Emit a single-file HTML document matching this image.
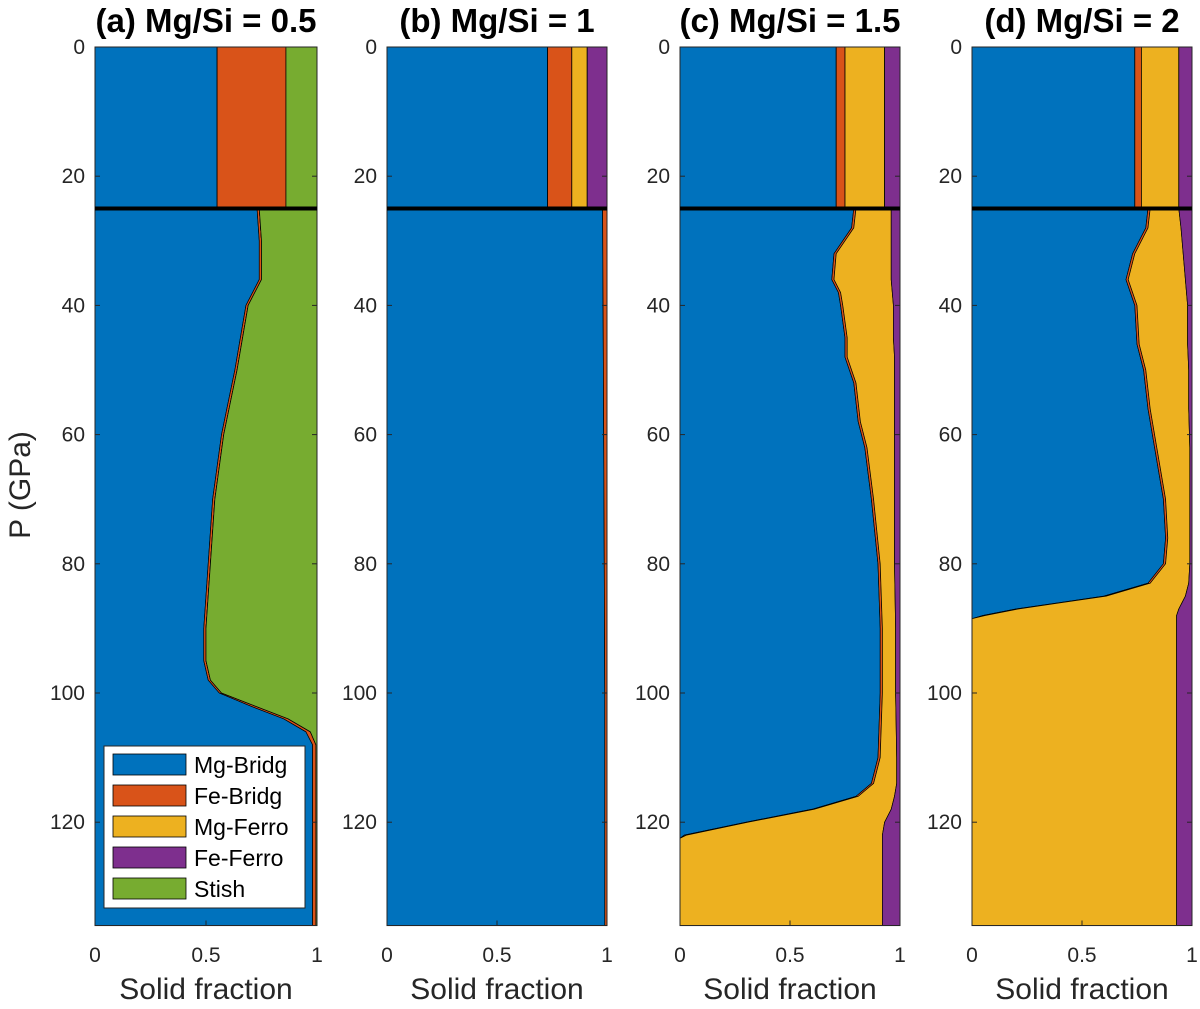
<!DOCTYPE html>
<html><head><meta charset="utf-8">
<style>
body{margin:0;background:#fff;}
svg{display:block;font-family:"Liberation Sans",sans-serif;}
</style></head>
<body>
<svg id="chart" width="1200" height="1009"></svg>
<script>
const titles=["(a) Mg/Si = 0.5","(b) Mg/Si = 1","(c) Mg/Si = 1.5","(d) Mg/Si = 2"];
const phases=["Mg-Bridg","Fe-Bridg","Mg-Ferro","Fe-Ferro","Stish"];
const colors=["#0072BD","#D95319","#EDB120","#7E2F8E","#77AC30"];
const yTicks=[0,20,40,60,80,100,120];
const xTicks=[0,0.5,1];
const xTickLabels=["0","0.5","1"];
const transitionP=25;
const pMax=136;
const upperA=[0.55,0.31,0,0,0.14];
const upperB=[0.73,0.11,0.07,0.09,0];
const upperC=[0.71,0.04,0.18,0.07,0];
const upperD=[0.74,0.03,0.17,0.06,0];
const pA=[25,30,36,40,50,60,70,80,90,95,98,100,102,104,106,108,120,136];
const cumA_MgB=[0.73,0.74,0.74,0.68,0.63,0.57,0.53,0.51,0.49,0.49,0.51,0.56,0.70,0.85,0.95,0.98,0.98,0.98];
const cumA_FeB=[0.74,0.75,0.75,0.69,0.64,0.58,0.54,0.52,0.50,0.50,0.52,0.57,0.72,0.87,0.97,0.995,0.995,0.995];
const cumA_MgF=cumA_FeB, cumA_FeF=cumA_FeB;
const pB=[25,60,100,136];
const cumB_MgB=[0.98,0.985,0.99,0.99];
const cumB_FeB=[1,1,1,1];
const cumB_MgF=cumB_FeB, cumB_FeF=cumB_FeB;
const pC=[25,28,32,36,38,40,45,48,52,58,62,70,80,90,100,110,114,116,118,120,122,122.5,136];
const cumC_MgB=[0.79,0.78,0.70,0.69,0.72,0.73,0.75,0.75,0.79,0.81,0.84,0.87,0.90,0.91,0.91,0.90,0.87,0.80,0.60,0.30,0.02,0,0];
const cumC_FeB=[0.80,0.79,0.71,0.70,0.73,0.74,0.76,0.76,0.80,0.82,0.85,0.88,0.91,0.92,0.92,0.91,0.88,0.81,0.61,0.31,0.03,0,0];
const cumC_MgF=[0.96,0.96,0.96,0.96,0.965,0.97,0.97,0.975,0.975,0.975,0.975,0.975,0.975,0.98,0.98,0.985,0.985,0.975,0.96,0.93,0.92,0.92,0.92];
const cumC_FeF=pC.map(()=>1);
const pD=[25,28,32,36,38,40,46,50,56,62,70,76,80,83,85,86,87,88,88.5,136];
const cumD_MgB=[0.80,0.79,0.73,0.70,0.72,0.74,0.75,0.78,0.80,0.83,0.87,0.88,0.87,0.80,0.60,0.40,0.20,0.05,0,0];
const cumD_FeB=[0.81,0.80,0.74,0.71,0.73,0.75,0.76,0.79,0.81,0.84,0.88,0.89,0.88,0.81,0.61,0.41,0.21,0.06,0,0];
const cumD_MgF=[0.94,0.95,0.96,0.97,0.975,0.98,0.98,0.985,0.985,0.99,0.99,0.99,0.99,0.985,0.97,0.955,0.94,0.93,0.93,0.93];
const cumD_FeF=pD.map(()=>1);

const panels=[
 {x0:95,x1:317,upper:upperA,p:pA,cum:[cumA_MgB,cumA_FeB,cumA_MgF,cumA_FeF]},
 {x0:387,x1:607,upper:upperB,p:pB,cum:[cumB_MgB,cumB_FeB,cumB_MgF,cumB_FeF]},
 {x0:680,x1:900,upper:upperC,p:pC,cum:[cumC_MgB,cumC_FeB,cumC_MgF,cumC_FeF]},
 {x0:972,x1:1192,upper:upperD,p:pD,cum:[cumD_MgB,cumD_FeB,cumD_MgF,cumD_FeF]}
];
const yTop=47, yPer=6.46;
const Y=p=>yTop+p*yPer;
const NS="http://www.w3.org/2000/svg";
const svg=document.getElementById('chart');
function mk(tag,attrs,parent){const e=document.createElementNS(NS,tag);for(const k in attrs)e.setAttribute(k,attrs[k]);(parent||svg).appendChild(e);return e;}
panels.forEach((pn,i)=>{
 const X=f=>pn.x0+f*(pn.x1-pn.x0);
 const g=mk('g',{});
 
 
 let acc=0;
 pn.upper.forEach((f,k)=>{
  if(f<=0)return;
  const r=mk('rect',{x:X(acc),y:Y(0),width:X(acc+f)-X(acc),height:Y(transitionP)-Y(0),fill:colors[k],stroke:'#000','stroke-width':0.8},g);
  
  
  acc+=f;
 });
 const bounds=[pn.p.map(()=>0)].concat(pn.cum).concat([pn.p.map(()=>1)]);
 for(let k=0;k<5;k++){
  const lo=bounds[k],hi=bounds[k+1];
  let pts=[];
  pn.p.forEach((p,j)=>pts.push(X(hi[j])+','+Y(p)));
  for(let j=pn.p.length-1;j>=0;j--)pts.push(X(lo[j])+','+Y(pn.p[j]));
  const poly=mk('polygon',{points:pts.join(' '),fill:colors[k],stroke:'#000','stroke-width':0.7},g);
  
  
 }
 const fr=mk('rect',{x:pn.x0,y:Y(0),width:pn.x1-pn.x0,height:Y(pMax)-Y(0),fill:'none',stroke:'#262626','stroke-width':1},g);
 
 
 const tl=mk('line',{x1:pn.x0,x2:pn.x1,y1:Y(transitionP),y2:Y(transitionP),stroke:'#000','stroke-width':4},g);
 
 
 yTicks.forEach(t=>{
  mk('line',{x1:pn.x0,x2:pn.x0+5,y1:Y(t),y2:Y(t),stroke:'#262626'},g);
  mk('line',{x1:pn.x1,x2:pn.x1-5,y1:Y(t),y2:Y(t),stroke:'#262626'},g);
  const tx=mk('text',{x:pn.x0-10,y:Y(t)+7,'text-anchor':'end','font-size':21,fill:'#262626'},g);
  tx.textContent=t;
  
  
 });
 xTicks.forEach((t,j)=>{
  mk('line',{x1:X(t),x2:X(t),y1:Y(pMax),y2:Y(pMax)-5,stroke:'#262626'},g);
  const tx=mk('text',{x:X(t),y:962,'text-anchor':'middle','font-size':21,fill:'#262626'},g);
  tx.textContent=xTickLabels[j];
  
  
 });
 const xl=mk('text',{x:(pn.x0+pn.x1)/2,y:999,'text-anchor':'middle','font-size':30,fill:'#262626'},g);
 xl.textContent='Solid fraction';
 
 
 const ti=mk('text',{x:(pn.x0+pn.x1)/2,y:32,'text-anchor':'middle','font-size':33,'font-weight':'bold',fill:'#000'},g);
 ti.textContent=titles[i];
 
 
});
const yl=mk('text',{x:0,y:0,transform:'translate(30,485) rotate(-90)','text-anchor':'middle','font-size':30,fill:'#262626'});
yl.textContent='P (GPa)';


const lg=mk('g',{});


mk('rect',{x:104,y:746,width:201,height:162,fill:'#fff',stroke:'#262626','stroke-width':1},lg);
phases.forEach((ph,k)=>{
 const yy=754+k*31;
 const sw=mk('rect',{x:113,y:yy,width:73,height:21,fill:colors[k],stroke:'#000','stroke-width':0.8},lg);
 
 
 const t=mk('text',{x:194,y:yy+19,'font-size':23,fill:'#000'},lg);
 t.textContent=ph;
 
 
});
</script>
</body></html>
